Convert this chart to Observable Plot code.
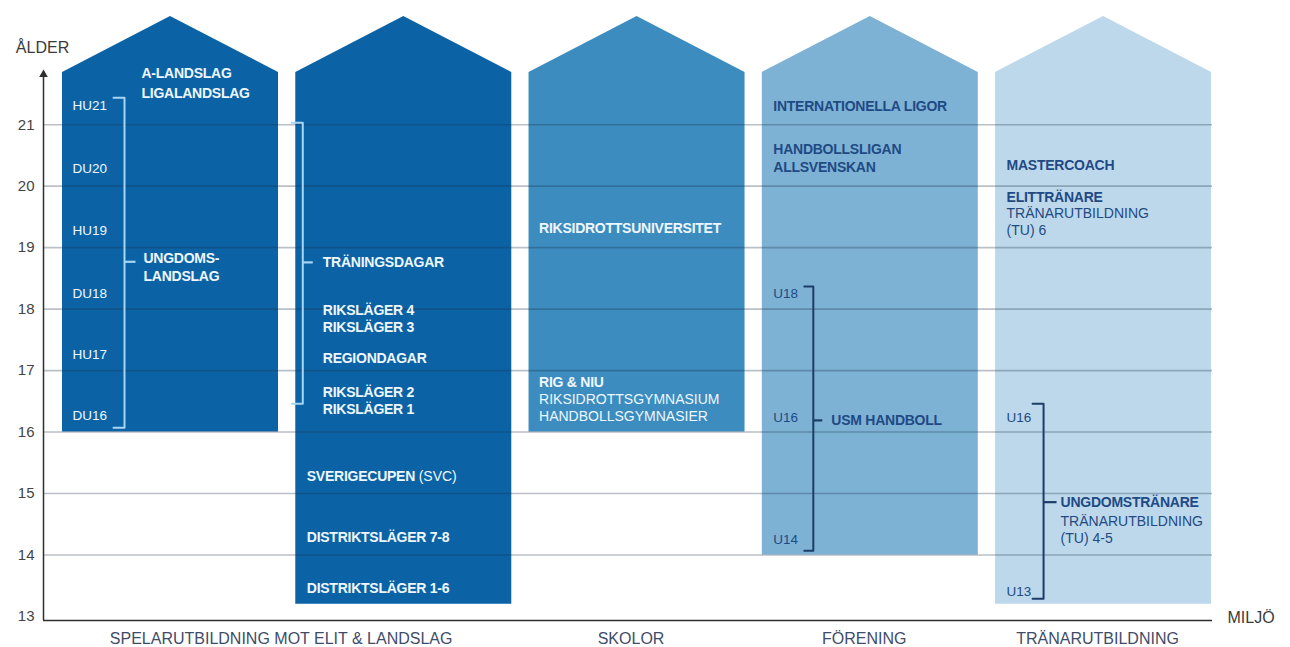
<!DOCTYPE html>
<html><head><meta charset="utf-8">
<script src="https://cdn.jsdelivr.net/npm/d3@7"></script>
<script src="https://cdn.jsdelivr.net/npm/@observablehq/plot@0.6"></script>
<style>
html,body{margin:0;padding:0;background:#fff;}
#chart svg{display:block;}
g[font-weight="bold"] text{letter-spacing:-0.25px;}
</style></head><body><div id="chart"></div>
<script>
// ---------- DATA ----------
const columns = ["Spelare – landslag", "Spelare – läger", "Skolor", "Förening", "Tränare"];
const columnFromAge = [16, 13.2, 16, 14, 13.2];
const ageTicks = [13, 14, 15, 16, 17, 18, 19, 20, 21];
const gridAges = [14, 15, 16, 17, 18, 19, 20, 21];
const areaLabels = ["SPELARUTBILDNING MOT ELIT & LANDSLAG", "SKOLOR", "FÖRENING", "TRÄNARUTBILDNING"];
const areaFirstColumn = [0, 2, 3, 4];
const areaLastColumn = [1, 2, 3, 4];

// [text, age, kind]
const landslagItems = [
  ["A-LANDSLAG", 21.83, "title"], ["LIGALANDSLAG", 21.50, "title"],
  ["HU21", 21.31, "age"], ["DU20", 20.28, "age"], ["HU19", 19.28, "age"],
  ["DU18", 18.25, "age"], ["HU17", 17.26, "age"], ["DU16", 16.27, "age"],
  ["UNGDOMS-", 18.82, "note"], ["LANDSLAG", 18.53, "note"]
];
const lagerItems = [
  ["TRÄNINGSDAGAR", 18.76, "note"], ["RIKSLÄGER 4", 17.98, "note"], ["RIKSLÄGER 3", 17.70, "note"],
  ["REGIONDAGAR", 17.20, "note"], ["RIKSLÄGER 2", 16.64, "note"], ["RIKSLÄGER 1", 16.37, "note"],
  ["SVERIGECUPEN (SVC)", 15.28, "title"], ["DISTRIKTSLÄGER 7-8", 14.28, "title"], ["DISTRIKTSLÄGER 1-6", 13.46, "title"]
];
const skolorItems = [
  ["RIKSIDROTTSUNIVERSITET", 19.31, "title"], ["RIG & NIU", 16.80, "title"],
  ["RIKSIDROTTSGYMNASIUM", 16.53, "plain"], ["HANDBOLLSGYMNASIER", 16.25, "plain"]
];
const foreningItems = [
  ["INTERNATIONELLA LIGOR", 21.29, "title"], ["HANDBOLLSLIGAN", 20.59, "title"], ["ALLSVENSKAN", 20.30, "title"],
  ["U18", 18.25, "age"], ["U16", 16.24, "age"], ["U14", 14.25, "age"],
  ["USM HANDBOLL", 16.19, "note"]
];
const tranareItems = [
  ["MASTERCOACH", 20.33, "title"], ["ELITTRÄNARE", 19.81, "title"],
  ["TRÄNARUTBILDNING", 19.55, "plain"], ["(TU) 6", 19.28, "plain"],
  ["U16", 16.24, "age"], ["U13", 13.41, "age"],
  ["UNGDOMSTRÄNARE", 14.85, "note"], ["TRÄNARUTBILDNING", 14.54, "notePlain"], ["(TU) 4-5", 14.27, "notePlain"]
];
const columnItems = [landslagItems, lagerItems, skolorItems, foreningItems, tranareItems];

const bracketColumn = [0, 1, 3, 4];
const bracketTopAge = [21.44, 21.03, 18.37, 16.46];
const bracketBottomAge = [16.07, 16.46, 14.07, 13.29];
const bracketMidAge = [18.77, 18.76, 16.19, 14.86];

// ---------- LAYOUT & STYLE ----------
const W = 1290, H = 647;
const mL = 43, mR = 78, mT = 16, mB = 31;
const X0 = -0.0815, X1 = 4.93;
const WALL = 21.85, PEAK = 22.76;
const pxPerUnit = (W - mL - mR) / (X1 - X0);
const px = p => p / pxPerUnit;
const colWidth = px(216);

const houseColors = ["#0b63a6", "#0b63a6", "#3c8cc0", "#7db2d5", "#bdd8eb"];
const textColors = ["#eef7fd", "#eef7fd", "#eef7fd", "#1f4a84", "#1f4a84"];
const bracketColors = ["#a6d6f4", "#a6d6f4", null, "#1e3c69", "#1e3c69"];
const indent = {
  title: [79, 11, 10, 11, 11], plain: [79, 11, 10, 11, 11],
  age: [10, 10, 10, 11, 11],
  note: [81, 27, 27, 69, 65], notePlain: [81, 27, 27, 69, 65]
};
const kindStyle = {
  title: {fontWeight: "bold", fontSize: 14},
  note: {fontWeight: "bold", fontSize: 14},
  plain: {fontWeight: "normal", fontSize: 14},
  notePlain: {fontWeight: "normal", fontSize: 14},
  age: {fontWeight: "normal", fontSize: 13.5}
};
const bracketOffset = [62, 7, 0, 51, 48];
const bracketHook = [11, 11, 0, 9, 11];
const bracketTick = [11, 10, 0, 9, 13];

// ---------- MARKS ----------
const houseShape = columns.flatMap((c, i) => [
  {house: c, i, x: i, y1: columnFromAge[i], y2: WALL},
  {house: c, i, x: i + colWidth / 2, y1: columnFromAge[i], y2: PEAK},
  {house: c, i, x: i + colWidth, y1: columnFromAge[i], y2: WALL}
]);

const marks = [];
marks.push(Plot.areaY(houseShape, {x: "x", y1: "y1", y2: "y2", z: "house", fill: d => houseColors[d.i], curve: "linear"}));
marks.push(Plot.ruleY(gridAges, {x1: X0, x2: X1, stroke: "#1b2f45", strokeOpacity: 0.3, strokeWidth: 1.6}));

// brackets
const bracketPts = bracketColumn.flatMap((c, k) => {
  const bx = c + px(bracketOffset[c]), hx = c + px(bracketOffset[c] - bracketHook[c]);
  return [
    {k, c, x: hx, y: bracketTopAge[k]}, {k, c, x: bx, y: bracketTopAge[k]},
    {k, c, x: bx, y: bracketBottomAge[k]}, {k, c, x: hx, y: bracketBottomAge[k]}
  ];
});
marks.push(Plot.line(bracketPts, {x: "x", y: "y", z: "k", stroke: d => bracketColors[d.c], strokeWidth: 2, strokeLinejoin: "round"}));
marks.push(Plot.link(bracketColumn.map((c, k) => ({c, k})), {
  x1: d => d.c + px(bracketOffset[d.c]), x2: d => d.c + px(bracketOffset[d.c] + bracketTick[d.c]),
  y1: d => bracketMidAge[d.k], y2: d => bracketMidAge[d.k], stroke: d => bracketColors[d.c], strokeWidth: 2.2
}));

// texts in houses
columnItems.forEach((items, i) => {
  Object.keys(kindStyle).forEach(kind => {
    const rows = items.filter(r => r[2] === kind);
    if (!rows.length) return;
    marks.push(Plot.text(rows, {
      x: () => i, y: r => r[1], text: r => r[0], dx: indent[kind][i],
      textAnchor: "start", fill: textColors[i], ...kindStyle[kind]
    }));
  });
});

// axes
marks.push(Plot.ruleY([13], {x1: X0, x2: X1, dy: 4, stroke: "#2e2e2e", strokeWidth: 1.5}));
marks.push(Plot.ruleX([X0], {y1: 13, y2: WALL, dy: 4, stroke: "#2e2e2e", strokeWidth: 1.5}));
marks.push(Plot.dot([X0], {x: d => d, y: WALL, dy: 2, symbol: "triangle", r: 3.2, fill: "#2e2e2e"}));
marks.push(Plot.text(ageTicks, {x: X0, y: d => d, text: d => String(d), dx: -9, textAnchor: "end", fontSize: 15, fill: "#444"}));
marks.push(Plot.text(["ÅLDER"], {frameAnchor: "top-left", dx: -1, dy: 31, textAnchor: "middle", lineAnchor: "middle", fontSize: 16, fill: "#3a3a3a"}));
marks.push(Plot.text(["MILJÖ"], {frameAnchor: "bottom-right", dx: 15, dy: 1, textAnchor: "start", lineAnchor: "middle", fontSize: 16, fill: "#3a3a3a"}));
marks.push(Plot.text(areaLabels, {
  x: (d, i) => (areaFirstColumn[i] + areaLastColumn[i]) / 2 + colWidth / 2,
  frameAnchor: "bottom", dy: 22, dx: -6, lineAnchor: "middle", fontSize: 16, fill: "#3f4c69"
}));

const chart = Plot.plot({
  width: W, height: H, marginLeft: mL, marginRight: mR, marginTop: mT, marginBottom: mB,
  x: {domain: [X0, X1], axis: null},
  y: {domain: [13, PEAK], axis: null},
  color: {type: "identity"},
  style: {fontFamily: "'Liberation Sans', Arial, sans-serif", background: "white", overflow: "visible"},
  marks
});

// mixed weight line
const ns = "http://www.w3.org/2000/svg";
chart.querySelectorAll("text").forEach(t => {
  if (t.textContent === "SVERIGECUPEN (SVC)") {
    t.textContent = "";
    const a = document.createElementNS(ns, "tspan"); a.textContent = "SVERIGECUPEN ";
    const b = document.createElementNS(ns, "tspan"); b.textContent = "(SVC)";
    b.setAttribute("font-weight", "normal"); b.setAttribute("style", "letter-spacing:0");
    t.appendChild(a); t.appendChild(b);
  }
});
document.getElementById("chart").appendChild(chart);
</script></body></html>
